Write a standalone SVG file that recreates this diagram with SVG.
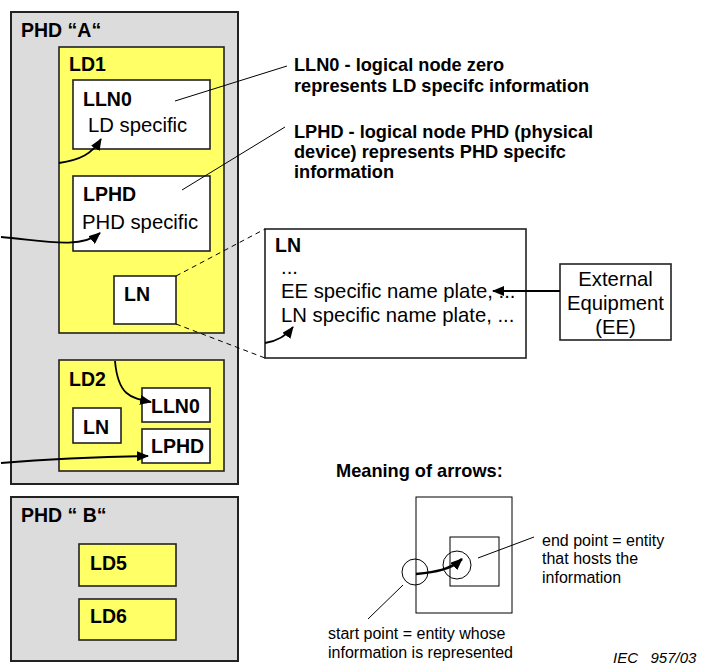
<svg xmlns="http://www.w3.org/2000/svg" width="716" height="666" viewBox="0 0 716 666">
<defs>
<marker id="ah" markerUnits="userSpaceOnUse" markerWidth="12" markerHeight="10" refX="11" refY="5" orient="auto">
<path d="M0,0 L12,5 L0,10 z" fill="#000"/>
</marker>
<style>
.phd{fill:#dcdcdc;stroke:#222;stroke-width:2}
.ld{fill:#ffff66;stroke:#222;stroke-width:1.6}
.box{fill:#fff;stroke:#222;stroke-width:1.6}
.thin{fill:none;stroke:#000;stroke-width:1}
.b{font-family:"Liberation Sans",Arial,sans-serif;font-weight:bold;font-size:19.5px;fill:#000}
.r{font-family:"Liberation Sans",Arial,sans-serif;font-size:20.3px;fill:#000}
.ann{font-family:"Liberation Sans",Arial,sans-serif;font-weight:bold;font-size:18.2px;fill:#000}
.s{font-family:"Liberation Sans",Arial,sans-serif;font-size:16px;fill:#000}
.arr{fill:none;stroke:#000;stroke-width:1.8;marker-end:url(#ah)}
.dash{fill:none;stroke:#000;stroke-width:1;stroke-dasharray:5,4}
</style>
</defs>

<g id="phdA">
<rect class="phd" x="11" y="12" width="227" height="472"/>
<text class="b" x="21" y="37">PHD “A“</text>
</g>
<g id="ld1">
<rect class="ld" x="59" y="47" width="165" height="286"/>
<text class="b" x="69" y="71">LD1</text>
</g>
<g id="lln0">
<rect class="box" x="73" y="80" width="137" height="69"/>
<text class="b" x="83" y="106">LLN0</text>
<text class="r" x="88" y="132">LD specific</text>
</g>
<g id="lphd">
<rect class="box" x="73" y="176" width="137" height="75"/>
<text class="b" x="83" y="201">LPHD</text>
<text class="r" x="82" y="229">PHD specific</text>
</g>
<g id="ln1">
<rect class="box" x="114" y="276" width="62" height="48"/>
<text class="b" x="124" y="301">LN</text>
</g>
<g id="ld2">
<rect class="ld" x="59" y="360" width="165" height="111"/>
<text class="b" x="69" y="386">LD2</text>
</g>
<g id="lln0b">
<rect class="box" x="142" y="388" width="68" height="34"/>
<text class="b" x="151" y="413">LLN0</text>
</g>
<g id="ln2">
<rect class="box" x="73" y="408" width="48" height="35"/>
<text class="b" x="83" y="434">LN</text>
</g>
<g id="lphdb">
<rect class="box" x="142" y="429" width="68" height="34"/>
<text class="b" x="151" y="453">LPHD</text>
</g>
<g id="phdB">
<rect class="phd" x="11" y="497" width="227" height="164"/>
<text class="b" x="21" y="522">PHD “ B“</text>
</g>
<g id="ld5">
<rect class="ld" x="79" y="544" width="97" height="42"/>
<text class="b" x="90" y="570">LD5</text>
</g>
<g id="ld6">
<rect class="ld" x="79" y="599" width="97" height="41"/>
<text class="b" x="90" y="623">LD6</text>
</g>
<g id="lnDetail">
<rect class="box" x="265" y="229" width="261" height="129"/>
<text class="b" x="275" y="252">LN</text>
<text class="r" x="281" y="274">...</text>
<text class="r" x="281" y="298">EE specific name plate, ...</text>
<text class="r" x="281" y="322">LN specific name plate, ...</text>
</g>
<g id="ee">
<rect class="box" x="560" y="264" width="111" height="76"/>
<text class="r" x="615.5" y="286" text-anchor="middle">External</text>
<text class="r" x="615.5" y="310" text-anchor="middle">Equipment</text>
<text class="r" x="615.5" y="334" text-anchor="middle">(EE)</text>
</g>
<g id="annotations">
<text class="ann" x="294" y="71">LLN0 - logical node zero</text>
<text class="ann" x="294" y="92">represents LD specifc information</text>
<text class="ann" x="294" y="138">LPHD - logical node PHD (physical</text>
<text class="ann" x="294" y="158">device) represents PHD specifc</text>
<text class="ann" x="294" y="178">information</text>
</g>
<g id="legend">
<text class="ann" x="336" y="477">Meaning of arrows:</text>
<rect class="thin" x="416" y="497" width="96" height="116"/>
<rect class="thin" x="450" y="537" width="49" height="49"/>
<circle class="thin" cx="415" cy="572" r="13"/>
<circle class="thin" cx="457" cy="565" r="14"/>
<path d="M416,574 C435,572 450,570 462,559" fill="none" stroke="#000" stroke-width="2.5" marker-end="url(#ah)"/>
<path class="thin" d="M534,537 L478,558"/>
<path class="thin" d="M368,619 L403,585"/>
<text class="s" x="542" y="546">end point = entity</text>
<text class="s" x="542" y="564">that hosts the</text>
<text class="s" x="542" y="583">information</text>
<text class="s" x="328" y="639">start point = entity whose</text>
<text class="s" x="328" y="658">information is represented</text>
</g>
<g id="caption">
<text x="613" y="663" font-family="Liberation Sans, Arial, sans-serif" font-size="15" font-style="italic" style="white-space:pre">IEC   957/03</text>
</g>
<g id="connectors">
<path class="thin" d="M175,101 L287,66"/>
<path class="thin" d="M182,190 L285,127"/>
<path class="dash" d="M176,276 L265,229"/>
<path class="dash" d="M176,324 L265,358"/>
<path class="arr" d="M59,163 C80,160 92,154 101,139"/>
<path class="arr" d="M1,237 C40,240 80,250 100,233"/>
<path class="arr" d="M265,343 C278,341 287,335 293,327"/>
<path class="arr" d="M560,291 L493,291"/>
<path class="arr" d="M115,361 C118,395 130,398 151,402"/>
<path class="arr" d="M1,463 C50,459 100,457 148,456"/>
</g>
</svg>
